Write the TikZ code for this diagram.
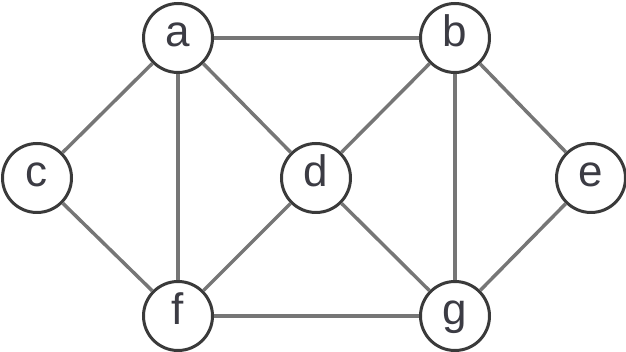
\documentclass[tikz,border=0pt]{standalone}
\usepackage{fontspec}
\setmainfont{Liberation Sans}
\definecolor{edgegray}{HTML}{767676}
\definecolor{ringgray}{HTML}{3A3A3A}
\definecolor{labelgray}{HTML}{3C3C44}
\begin{document}
\begin{tikzpicture}[
  x={(0.75pt,0)}, y={(0,-0.75pt)},
  vertex/.style={circle, draw=ringgray, line width=2.25pt, fill=white,
    minimum size=51.75pt, inner sep=0pt, text=labelgray,
    font=\fontsize{33}{36}\selectfont, text height=18pt, text depth=4.5pt},
  edge/.style={draw=edgegray, line width=2.6pt}
]
\useasboundingbox (0,0) rectangle (626,352);

% vertices
\node[vertex] (a) at (178,38)  {a};
\node[vertex] (b) at (455,38)  {b};
\node[vertex] (c) at (37,178)  {c};
\node[vertex] (d) at (316,178) {d};
\node[vertex] (e) at (591,178) {e};
\node[vertex] (f) at (178,316) {f};
\node[vertex] (g) at (455,316) {g};

% edges, clipped at the vertex borders
\path[edge] (a) -- (b);
\path[edge] (a) -- (c);
\path[edge] (a) -- (d);
\path[edge] (a) -- (f);
\path[edge] (b) -- (d);
\path[edge] (b) -- (e);
\path[edge] (b) -- (g);
\path[edge] (c) -- (f);
\path[edge] (d) -- (f);
\path[edge] (d) -- (g);
\path[edge] (e) -- (g);
\path[edge] (f) -- (g);
\end{tikzpicture}
\end{document}
